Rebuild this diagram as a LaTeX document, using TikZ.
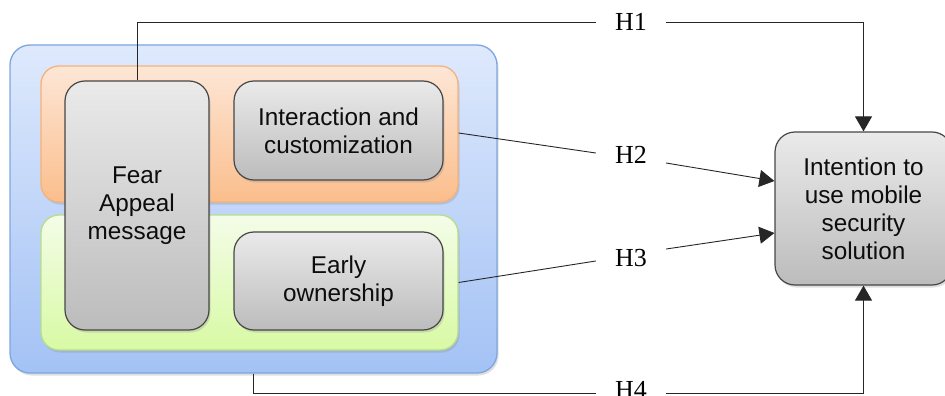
\documentclass[tikz,border=0pt]{standalone}
\usepackage{fontspec}
\setmainfont{Liberation Serif}
\setsansfont{Liberation Sans}
\usetikzlibrary{arrows.meta,shadows,calc}

\definecolor{blueTop}{RGB}{222,233,252}
\definecolor{blueBot}{RGB}{163,194,245}
\definecolor{blueEdge}{RGB}{126,166,224}
\definecolor{orangeTop}{RGB}{253,230,214}
\definecolor{orangeBot}{RGB}{251,190,140}
\definecolor{orangeEdge}{RGB}{246,178,122}
\definecolor{greenTop}{RGB}{244,252,232}
\definecolor{greenBot}{RGB}{216,250,164}
\definecolor{greenEdge}{RGB}{184,222,140}
\definecolor{grayTop}{RGB}{234,234,234}
\definecolor{grayBot}{RGB}{188,188,188}
\definecolor{grayEdge}{RGB}{70,70,70}

\begin{document}
\begin{tikzpicture}[x=1pt,y=-1pt,
  softshadow/.style={drop shadow={opacity=0.25,shadow xshift=1.5pt,shadow yshift=-2.5pt}},
  panel/.style={softshadow,line width=1.3pt,inner sep=0pt,rounded corners=#1},
  panel/.default=20pt,
  construct/.style={softshadow,draw=grayEdge,line width=1.2pt,rounded corners=20pt,
    top color=grayTop,bottom color=grayBot,inner sep=0pt,align=center,
    text=black!95,font=\sffamily\fontsize{24.3}{28}\selectfont},
  hyp/.style={font=\fontsize{26}{30}\selectfont,minimum width=70pt,
    minimum height=24pt,inner sep=0pt},
  link/.style={line width=0.9pt,draw=black!85},
  arr/.style={link,-{Triangle[length=15pt,width=17pt]}}
]
\useasboundingbox (0,0) rectangle (945,396);
\clip (0,0) rectangle (945,396);

% grouping panels
\node[panel,draw=blueEdge,top color=blueTop,bottom color=blueBot,
  minimum width=487pt,minimum height=328pt] (outer) at (253.5,209) {};
\node[panel=18pt,draw=orangeEdge,top color=orangeTop,bottom color=orangeBot,
  minimum width=417pt,minimum height=136pt] (orange) at (249.5,134) {};
\node[panel=18pt,draw=greenEdge,top color=greenTop,bottom color=greenBot,
  minimum width=417pt,minimum height=135pt] (green) at (249.5,282.5) {};

% constructs
\node[construct,minimum width=144pt,minimum height=249pt] (fear) at (137,205.5)
  {Fear\\Appeal\\message};
\node[construct,minimum width=209pt,minimum height=99pt] (inter) at (338.5,130.5)
  {Interaction and\\customization};
\node[construct,minimum width=209pt,minimum height=98pt] (early) at (338.5,281)
  {Early\\ownership};
\node[construct,minimum width=177pt,minimum height=153pt] (target) at (863.5,208.5)
  {Intention to\\use mobile\\security\\solution};

% hypothesis labels
\node[hyp] (h1) at (631,22) {H1};
\node[hyp] (h2) at (631,155) {H2};
\node[hyp] (h3) at (631,258) {H3};
\node[hyp] (h4) at (631,390) {H4};

% H1
\draw[link] (fear.north) |- (h1.west);
\draw[arr] (h1.east) -| (target.north);
% H2
\draw[link] ($(orange.east)+(0,-1)$) -- ($(h2.west)+(0,-2)$);
\draw[arr] ($(h2.east)+(0,8)$) -- ($(target.west)+(0,-27.5)$);
% H3
\draw[link] (green.east) -- ($(h3.west)+(0,3)$);
\draw[arr] ($(h3.east)+(0,-9)$) -- ($(target.west)+(0,24.5)$);
% H4
\draw[link] (outer.south) |- ($(h4.west)+(0,3)$);
\draw[arr] ($(h4.east)+(0,3)$) -| (target.south);
\end{tikzpicture}
\end{document}
